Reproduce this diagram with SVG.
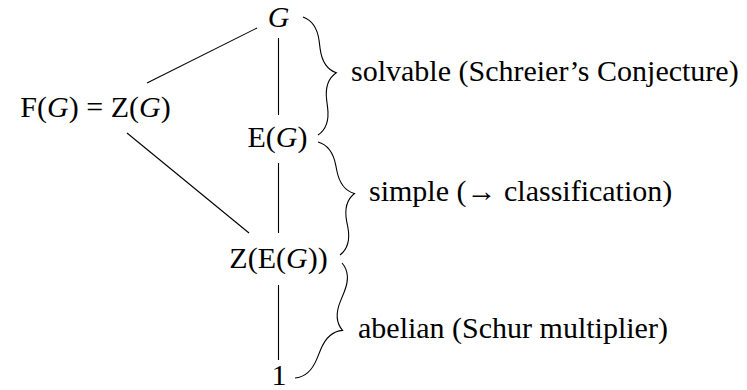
<svg xmlns="http://www.w3.org/2000/svg" width="747" height="390" viewBox="0 0 747 390">
<rect width="747" height="390" fill="#fff"/>
<g id="connectors" stroke="#000" stroke-width="1.1" fill="none">
<line x1="278.5" y1="38" x2="278.5" y2="115"/>
<line x1="278.5" y1="163" x2="278.5" y2="233"/>
<line x1="278.5" y1="285" x2="278.5" y2="360"/>
<line x1="147" y1="83" x2="257" y2="28"/>
<line x1="127" y1="133" x2="249" y2="233"/>
</g>
<g id="node-G"><text x="278.5" y="27" text-anchor="middle" font-family="Liberation Serif" font-size="30" font-style="italic">G</text></g>
<g id="node-FZ"><text x="95.5" y="117" text-anchor="middle" font-family="Liberation Serif" font-size="30">F(<tspan font-style="italic">G</tspan>) = Z(<tspan font-style="italic">G</tspan>)</text></g>
<g id="node-E"><text x="277.5" y="147" text-anchor="middle" font-family="Liberation Serif" font-size="30">E(<tspan font-style="italic">G</tspan>)</text></g>
<g id="node-ZE"><text x="278.5" y="268" text-anchor="middle" font-family="Liberation Serif" font-size="30">Z(E(<tspan font-style="italic">G</tspan>))</text></g>
<g id="node-1"><text x="279" y="385" text-anchor="middle" font-family="Liberation Serif" font-size="30">1</text></g>
<g id="braces" stroke="#000" stroke-width="1.1" fill="none">
<path transform="translate(303,17) rotate(82.76)" d="M0,0 C3.9,-7.8 13,-13 26,-13 L33.475,-13 C46.475,-13 55.575,-18.2 59.475,-26 C63.375,-18.2 72.475,-13 85.475,-13 L92.95,-13 C105.95,-13 115.05,-7.8 118.95,0"/>
<path transform="translate(318,142) rotate(78.98)" d="M0,0 C3.9,-7.8 13,-13 26,-13 L31.56,-13 C44.56,-13 53.66,-18.2 57.56,-26 C61.46,-18.2 70.56,-13 83.56,-13 L89.12,-13 C102.12,-13 111.22,-7.8 115.12,0"/>
<path transform="translate(342,263) rotate(112.23)" d="M0,0 C3.9,-7.8 13,-13 26,-13 L36.12,-13 C49.12,-13 58.22,-18.2 62.12,-26 C66.02,-18.2 75.12,-13 88.12,-13 L98.23,-13 C111.23,-13 120.33,-7.8 124.23,0"/>
</g>
<g id="labels">
<text x="351" y="81" font-family="Liberation Serif" font-size="30">solvable (Schreier&#8217;s Conjecture)</text>
<text x="369" y="201" font-family="Liberation Serif" font-size="30">simple (&#8594; classification)</text>
<text x="358" y="338" font-family="Liberation Serif" font-size="30">abelian (Schur multiplier)</text>
</g>
</svg>
